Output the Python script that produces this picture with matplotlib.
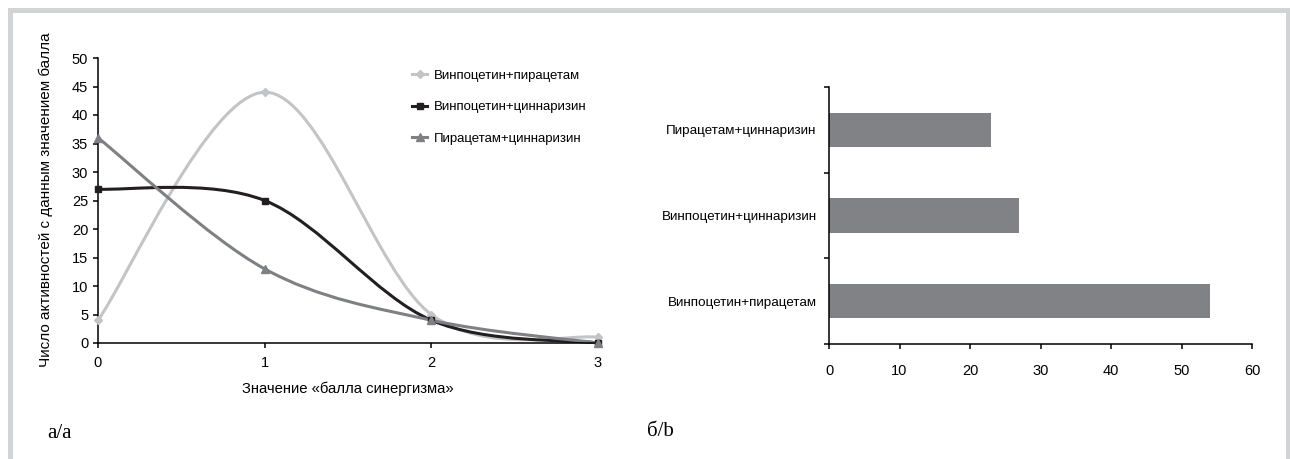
import matplotlib
matplotlib.use('Agg')
from matplotlib import pyplot as plt
from matplotlib.path import Path
from matplotlib.patches import PathPatch
from matplotlib.lines import Line2D
from matplotlib import font_manager

# data
scores = [0, 1, 2, 3]
vinpo_pira = [4, 44, 5, 1]
vinpo_cinn = [27, 25, 4, 0]
pira_cinn = [36, 13, 4, 0]
series_names = ['Винпоцетин+пирацетам', 'Винпоцетин+циннаризин', 'Пирацетам+циннаризин']

bar_labels = ['Винпоцетин+пирацетам', 'Винпоцетин+циннаризин', 'Пирацетам+циннаризин']
bar_values = [54, 27, 23]

names = {f.name for f in font_manager.fontManager.ttflist}
narrow = 'Liberation Sans Narrow' in names
print('narrow available:', narrow)
if narrow:
	plt.rcParams['font.family'] = ['Liberation Sans Narrow', 'DejaVu Sans']
	k = 1.2
else:
	plt.rcParams['font.family'] = ['Liberation Sans', 'DejaVu Sans']
	k = 1.0

LIGHT = '#c3c4c6'
DARK = '#231f20'
MID = '#7f8083'
BAR = '#818285'
FRAME = '#d1d3d4'


def smoothPath(xs, ys):
	# excel-like smoothed line: cubic bezier with catmull-rom control points
	n = len(xs)
	pts = list(zip(xs, ys))
	verts = [pts[0]]
	codes = [Path.MOVETO]
	for i in range(n - 1):
		p0 = pts[max(i - 1, 0)]
		p1 = pts[i]
		p2 = pts[i + 1]
		p3 = pts[min(i + 2, n - 1)]
		c1 = (p1[0] + (p2[0] - p0[0]) / 6, p1[1] + (p2[1] - p0[1]) / 6)
		c2 = (p2[0] - (p3[0] - p1[0]) / 6, p2[1] - (p3[1] - p1[1]) / 6)
		verts += [c1, c2, p2]
		codes += [Path.CURVE4] * 3
	return Path(verts, codes)


fig = plt.figure(figsize=(12.9, 4.59), dpi=100)

# gray frame around both panels
fig.add_artist(Line2D([9.5 / 1290, 1288 / 1290], [1 - 9.5 / 459, 1 - 9.5 / 459], color=FRAME, lw=3.6))
fig.add_artist(Line2D([9.5 / 1290, 9.5 / 1290], [0, 1 - 9.5 / 459], color=FRAME, lw=3.6))
fig.add_artist(Line2D([1288 / 1290, 1288 / 1290], [0, 1 - 9.5 / 459], color=FRAME, lw=3.6))

# panel a
ax1 = fig.add_axes([98 / 1290, 1 - 343 / 459, 500 / 1290, 285 / 459])
styles = [(vinpo_pira, LIGHT, 'D', 4.5), (vinpo_cinn, DARK, 's', 5), (pira_cinn, MID, '^', 6)]
handles = []
for (vals, col, mk, ms), name in zip(styles, series_names):
	ax1.add_patch(PathPatch(smoothPath(scores, vals), fill=False, edgecolor=col, lw=2.2, clip_on=False, zorder=2))
	ax1.plot(scores, vals, linestyle='none', marker=mk, color=col, ms=ms, clip_on=False, zorder=3)
	handles.append(Line2D([], [], color=col, lw=2.2, marker=mk, ms=ms, label=name))

ax1.set_xlim(0, 3)
ax1.set_ylim(0, 50)
ax1.set_xticks(scores)
ax1.set_yticks(range(0, 51, 5))
for s in ['top', 'right']:
	ax1.spines[s].set_visible(False)
for s in ['left', 'bottom']:
	ax1.spines[s].set_linewidth(1.1)
ax1.tick_params(axis='y', length=3.6, width=1.1, pad=3.5, labelsize=10.5 * k)
ax1.tick_params(axis='x', length=3.6, width=1.1, pad=6, labelsize=10.5 * k)
ax1.set_xlabel('Значение «балла синергизма»', fontsize=10.7 * k, labelpad=8)
fig.text(46 / 1290, 1 - 200 / 459, 'Число активностей с данным значением балла', rotation=90,
	ha='center', va='center', fontsize=11 * k)
ax1.legend(handles=handles, frameon=False, fontsize=9.5 * k, handlelength=1.1, handletextpad=0.5,
	labelspacing=1.45 / k, loc='upper left', bbox_to_anchor=(0.605, 1.0))

# panel b
ax2 = fig.add_axes([829 / 1290, 1 - 344 / 459, 423 / 1290, 257 / 459])
ax2.barh(range(len(bar_values)), bar_values, height=0.4, color=BAR)
ax2.set_xlim(0, 60)
ax2.set_ylim(-0.5, 2.5)
ax2.set_xticks(range(0, 61, 10))
ax2.set_yticks(range(len(bar_labels)))
ax2.set_yticklabels(bar_labels)
ax2.set_yticks([-0.5, 0.5, 1.5, 2.5], minor=True)
for s in ['top', 'right']:
	ax2.spines[s].set_visible(False)
for s in ['left', 'bottom']:
	ax2.spines[s].set_linewidth(1.1)
ax2.tick_params(axis='y', which='major', length=0, pad=9, labelsize=9.7 * k)
ax2.tick_params(axis='y', which='minor', length=3.6, width=1.1)
ax2.tick_params(axis='x', length=3.6, width=1.1, pad=10.5, labelsize=10.5 * k)

# panel letters
fig.text(47 / 1290, 1 - 433 / 459, 'а/а', family=['Liberation Serif', 'DejaVu Serif'], fontsize=15, va='center')
fig.text(647 / 1290, 1 - 431 / 459, 'б/b', family=['Liberation Serif', 'DejaVu Serif'], fontsize=15, va='center')

fig.savefig('out.png', dpi=100)
